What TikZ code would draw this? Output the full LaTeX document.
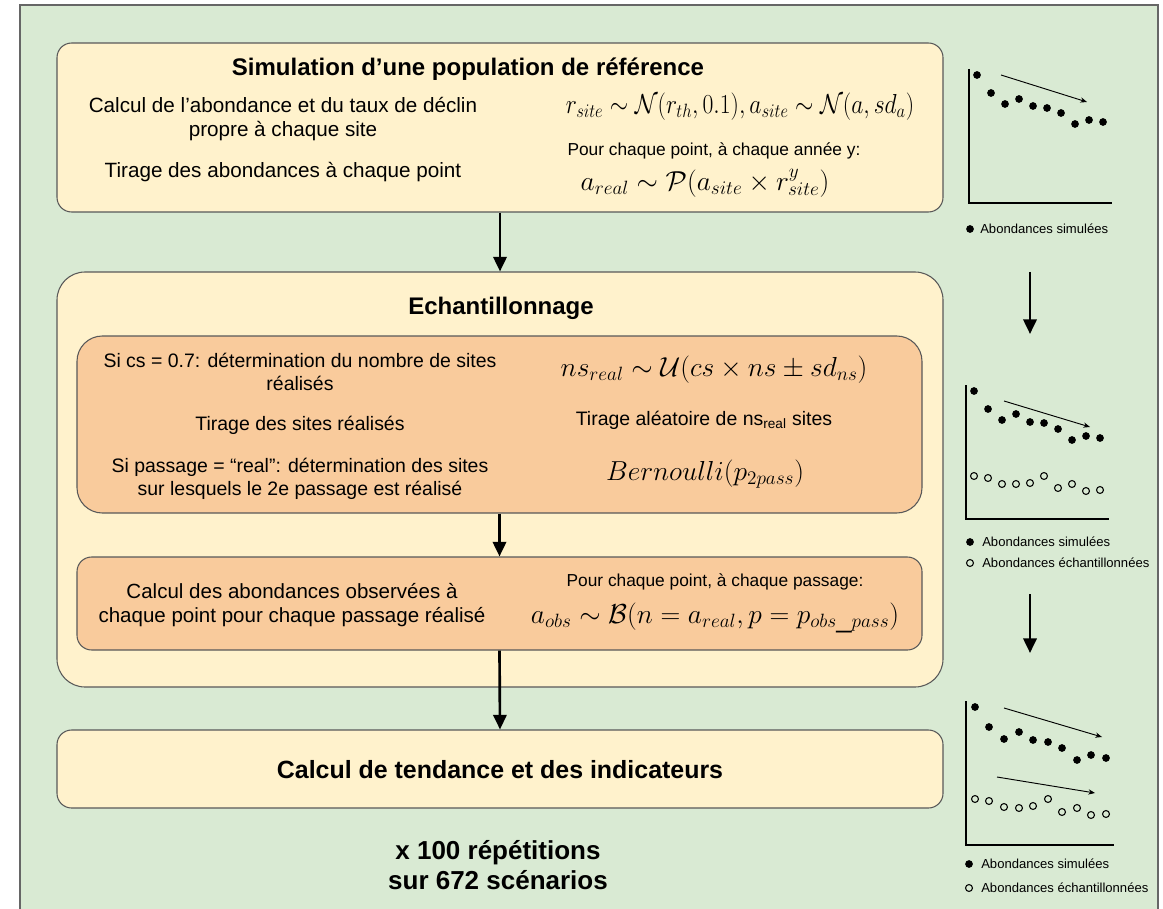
\RequirePackage{fix-cm}
\documentclass[tikz,border=0pt]{standalone}
\usepackage{fontspec}
\setmainfont{Liberation Sans}
\usetikzlibrary{arrows.meta}
\usepackage{xcolor}
\definecolor{bggreen}{HTML}{D9EAD3}
\definecolor{boxyellow}{HTML}{FFF2CC}
\definecolor{boxsalmon}{HTML}{F9CB9C}
\definecolor{boxline}{HTML}{595959}

\begin{document}
\begin{tikzpicture}[x=0.75pt,y=-0.75pt,
	yellowbox/.style={draw=boxline,fill=boxyellow,line width=0.8pt,inner sep=0pt},
	salmonbox/.style={draw=boxline,fill=boxsalmon,line width=0.8pt,inner sep=0pt},
	flow/.style={-{Triangle[length=11pt,width=10pt]},line width=2pt},
	trend/.style={-{Stealth[length=5pt,width=4pt]},line width=0.7pt},
	axes/.style={line width=1.8pt},
	titletext/.style={font=\bfseries\fontsize{18}{21}\selectfont},
	bodytext/.style={align=center,font=\fontsize{14.6}{17.4}\selectfont},
	smalltext/.style={align=center,font=\fontsize{13}{15}\selectfont},
	mathtext/.style={font=\fontsize{20.6}{24}\selectfont},
	legendtext/.style={anchor=west,inner sep=0pt,font=\fontsize{9.8}{12}\selectfont}]
	
	\useasboundingbox (0,0) rectangle (1163,909);
	
	% background
	\fill[white] (0,0) rectangle (1163,909);
	\draw[fill=bggreen,draw=gray!80!black,line width=1.5pt] (20,5) rectangle (1158,940);
	
	% simulation
	\node[yellowbox,rounded corners=11pt,minimum width=664.5pt,minimum height=126.75pt] (simul) at (500,127.5) {};
	\node[titletext] (simultitle) at (468,69) {Simulation d’une population de référence};
	\node[bodytext,font=\fontsize{15.5}{17.4}\selectfont] (calc) at (283,119) {Calcul de l’abondance et du taux de déclin\\propre à chaque site};
	\node[bodytext,font=\fontsize{15.5}{17.4}\selectfont] (tirage) at (283,172) {Tirage des abondances à chaque point};
	\node[mathtext] (rsite) at (740,107) {\scalebox{0.86}[1]{$r_{site} \sim \mathcal{N}(r_{th},0.1), a_{site} \sim \mathcal{N}(a,sd_a)$}};
	\node[smalltext] (pour) at (714,151) {Pour chaque point, à chaque année y:};
	\node[mathtext,inner sep=1pt] (areal) at (705,183) {$a_{real} \sim \mathcal{P}(a_{site} \times r_{site}^y)$};
	
	% echantillonnage
	\node[yellowbox,rounded corners=21pt,minimum width=664.5pt,minimum height=311.25pt] (echant) at (500,479.5) {};
	\node[titletext] (echanttitle) at (501,308) {Echantillonnage};
	
	\node[salmonbox,rounded corners=19pt,minimum width=633.75pt,minimum height=132.75pt] (sites) at (499.5,424.5) {};
	\node[bodytext] (nbsites) at (300,372) {Si cs = 0.7: détermination du nombre de sites\\réalisés};
	\node[bodytext] (tiragesites) at (300,425) {Tirage des sites réalisés};
	\node[bodytext] (passage) at (300,479) {Si passage = “real”: détermination des sites\\sur lesquels le 2e passage est réalisé};
	\node[mathtext] (nsreal) at (714,370) {$ns_{real} \sim \mathcal{U}(cs \times ns \pm sd_{ns})$};
	\node[bodytext] (aleat) at (704,420) {Tirage aléatoire de ns\textsubscript{real} sites};
	\node[mathtext] (bern) at (705,474) {$Bernoulli(p_{2pass})$};
	
	\node[salmonbox,rounded corners=11pt,minimum width=633.75pt,minimum height=69.75pt] (obs) at (499.5,603.5) {};
	\node[bodytext,font=\fontsize{15.4}{18.6}\selectfont] (calcobs) at (292,605) {Calcul des abondances observées à\\chaque point pour chaque passage réalisé};
	\node[smalltext] (pourpass) at (715,582) {Pour chaque point, à chaque passage:};
	\node[mathtext] (aobs) at (715,618) {$a_{obs} \sim \mathcal{B}(n = a_{real}, p = p_{obs\_pass})$};
	
	% tendance
	\node[yellowbox,rounded corners=11pt,minimum width=664.5pt,minimum height=58.5pt] (tend) at (500,769) {};
	\node[titletext,font=\bfseries\fontsize{18.7}{22}\selectfont] (tendtext) at (500,770) {Calcul de tendance et des indicateurs};
	\node[align=center,font=\bfseries\fontsize{19.5}{23}\selectfont] (repet) at (498,865) {x 100 répétitions\\sur 672 scénarios};
	
	% flow arrows
	\draw[flow] (simul.south) -- (echant.north);
	\draw[flow] (sites.south) -- (obs.north);
	\draw[flow] (obs.south) -- (tend.north);
	
	% 1st plot
	\draw[axes] (969,69) -- (969,203) -- (1112,203);
	\fill (977,75) circle (2.9pt) (991,93) circle (2.9pt) (1005,104) circle (2.9pt) (1019,99) circle (2.9pt) (1033,106) circle (2.9pt);
	\fill (1047,108) circle (2.9pt) (1061,113) circle (2.9pt) (1075,124) circle (2.9pt) (1089,120) circle (2.9pt) (1103,122) circle (2.9pt);
	\coordinate (t1a) at (1001,75);
	\coordinate (t1b) at (1087,102);
	\draw[trend] (t1a) -- (t1b);
	\fill (970,229) circle (2.9pt);
	\node[legendtext] (leg1) at (980,229) {Abondances simulées};
	
	\coordinate (r1a) at (1030,272);
	\coordinate (r1b) at (1030,334);
	\draw[flow] (r1a) -- (r1b);
	
	% 2nd plot
	\draw[axes] (966,385) -- (966,519) -- (1109,519);
	\fill (974,391) circle (2.9pt) (988,409) circle (2.9pt) (1002,420) circle (2.9pt) (1016,414) circle (2.9pt) (1030,422) circle (2.9pt);
	\fill (1044,423) circle (2.9pt) (1058,429) circle (2.9pt) (1072,440) circle (2.9pt) (1086,436) circle (2.9pt) (1100,438) circle (2.9pt);
	\draw[line width=0.8pt] (974,476) circle (2.6pt) (988,478) circle (2.6pt) (1002,484) circle (2.6pt) (1016,484) circle (2.6pt) (1030,483) circle (2.6pt);
	\draw[line width=0.8pt] (1044,476) circle (2.6pt) (1058,488) circle (2.6pt) (1072,484) circle (2.6pt) (1086,491) circle (2.6pt) (1100,490) circle (2.6pt);
	\coordinate (t2a) at (1004,401);
	\coordinate (t2b) at (1090,427);
	\draw[trend] (t2a) -- (t2b);
	\fill (970,542) circle (2.9pt);
	\node[legendtext] (leg2) at (982,542) {Abondances simulées};
	\draw[line width=0.8pt] (970,563) circle (2.6pt);
	\node[legendtext] (leg3) at (982,563) {Abondances échantillonnées};
	
	\coordinate (r2a) at (1030,594);
	\coordinate (r2b) at (1030,653);
	\draw[flow] (r2a) -- (r2b);
	
	% 3rd plot
	\draw[axes] (966,701) -- (966,845) -- (1114,845);
	\fill (975,707) circle (2.9pt) (989,727) circle (2.9pt) (1004,739) circle (2.9pt) (1019,732) circle (2.9pt) (1033,740) circle (2.9pt);
	\fill (1048,742) circle (2.9pt) (1062,748) circle (2.9pt) (1077,760) circle (2.9pt) (1091,755) circle (2.9pt) (1106,758) circle (2.9pt);
	\draw[line width=0.8pt] (975,799) circle (2.6pt) (989,801) circle (2.6pt) (1004,807) circle (2.6pt) (1019,808) circle (2.6pt) (1033,806) circle (2.6pt);
	\draw[line width=0.8pt] (1048,799) circle (2.6pt) (1062,812) circle (2.6pt) (1077,808) circle (2.6pt) (1091,815) circle (2.6pt) (1106,814) circle (2.6pt);
	\coordinate (t3a) at (1004,708);
	\coordinate (t3b) at (1102,737);
	\draw[trend] (t3a) -- (t3b);
	\coordinate (t4a) at (997,777);
	\coordinate (t4b) at (1095,793);
	\draw[trend] (t4a) -- (t4b);
	\fill (969,864) circle (2.9pt);
	\node[legendtext] (leg4) at (981,864) {Abondances simulées};
	\draw[line width=0.8pt] (969,888) circle (2.6pt);
	\node[legendtext] (leg5) at (981,888) {Abondances échantillonnées};
	
\end{tikzpicture}
\end{document}
